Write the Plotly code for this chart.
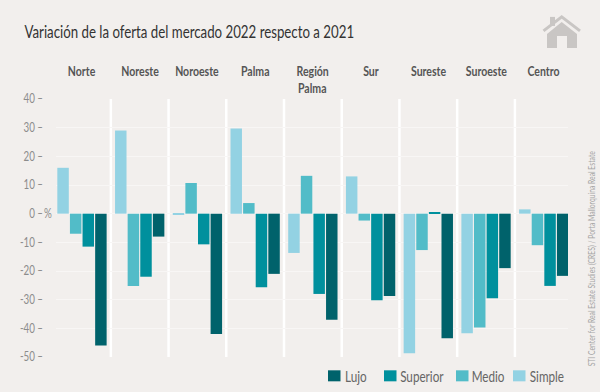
import plotly.graph_objects as go

TITLE = "Variación de la oferta del mercado 2022 respecto a 2021"
SOURCE = "STI Center for Real Estate Studies (CRES) / Porta Mallorquina Real Estate"
regions = ["Norte", "Noreste", "Noroeste", "Palma", "Región<br>Palma", "Sur", "Sureste", "Suroeste", "Centro"]
simple = [16, 29, -0.4, 29.7, -13.7, 13, -48.7, -41.7, 1.5]
medio = [-7, -25.2, 10.7, 3.7, 13.2, -2.4, -12.7, -39.7, -11]
superior = [-11.5, -22, -10.7, -25.7, -28, -30.2, 0.3, -29.5, -25.2]
lujo = [-46, -8, -42, -21, -37, -28.7, -43.5, -19, -21.7]
y_ticks = [40, 30, 20, 10, 0, -10, -20, -30, -40, -50]
y_labels = ["40 –", "30 –", "20 –", "10 –", "0 –", "-10 –", "-20 –", "-30 –", "-40 –", "-50 –"]
legend_names = ["Lujo", "Superior", "Medio", "Simple"]
legend_swatch_left = [328, 384, 456, 513]
legend_text_center = [355.5, 422, 488, 547]

FONT = "Lato, Roboto, sans-serif"
BG = "#f2efed"
W, H = 600, 392
L, R, T, B = 56, 568, 99, 356.7

def px(x):
    return (x - L) / (R - L)

def py(y):
    return (B - y) / (B - T)

fig = go.Figure()
colors = {"Simple": "#93d2e3", "Medio": "#52bcc8", "Superior": "#00909d", "Lujo": "#00626b"}
values = {"Simple": simple, "Medio": medio, "Superior": superior, "Lujo": lujo}
xs = list(range(len(regions)))
for name in ["Simple", "Medio", "Superior", "Lujo"]:
    fig.add_bar(x=xs, y=values[name], name=name, marker=dict(color=colors[name], line=dict(width=0)))

shapes = []
for i in xs[:-1]:
    shapes.append(dict(type="line", xref="x", yref="paper", x0=i + 0.5, x1=i + 0.5, y0=0, y1=1,
                       line=dict(color="white", width=2.5), layer="below"))

annotations = [
    dict(text=TITLE, xref="paper", yref="paper", x=px(189.5), y=py(32), xanchor="center", yanchor="middle",
         showarrow=False, font=dict(family=FONT, size=17, color="#333333")),
    dict(text=SOURCE, xref="paper", yref="paper", x=px(591.5), y=py(259), textangle=-90,
         xanchor="center", yanchor="middle", showarrow=False, font=dict(family=FONT, size=8.7, color="#a5a5a5")),
    dict(text="%", xref="paper", yref="y", x=px(47.5), y=0, xanchor="center", yanchor="middle",
         showarrow=False, font=dict(family=FONT, size=12.5, color="#8c8c8c")),
]
for i, r in enumerate(regions):
    for j, line in enumerate(r.split("<br>")):
        annotations.append(dict(text="<b>%s</b>" % line, x=i, xref="x", yref="paper",
                                y=py(71 + 17 * j), yanchor="middle", xanchor="center", showarrow=False,
                                font=dict(family=FONT, size=13.5, color="#555555")))

# house icon
house = [
    "M%f,%f L%f,%f L%f,%f L%f,%f L%f,%f L%f,%f L%f,%f L%f,%f L%f,%f L%f,%f L%f,%f Z" % tuple(
        v for p in [(547, 34), (561.7, 22), (577, 34), (577, 48), (567, 48), (567, 36), (557, 36),
                    (557, 48), (547, 48), (547, 34), (547, 34)] for v in (px(p[0]), py(p[1]))),
    "M%f,%f L%f,%f L%f,%f L%f,%f Z" % tuple(
        v for p in [(550, 17), (555, 17), (555, 26), (550, 26)] for v in (px(p[0]), py(p[1]))),
]
for path in house:
    shapes.append(dict(type="path", xref="paper", yref="paper", path=path, fillcolor="#c9c6c4", line=dict(width=0)))
shapes.append(dict(type="path", xref="paper", yref="paper",
                   path="M%f,%f L%f,%f L%f,%f" % (px(543.5), py(31), px(561.7), py(17), px(580), py(31)),
                   line=dict(color="#c9c6c4", width=3)))

# legend
for name, left, center in zip(legend_names, legend_swatch_left, legend_text_center):
    shapes.append(dict(type="rect", xref="paper", yref="paper", x0=px(left), x1=px(left + 12.5),
                       y0=py(381), y1=py(370), fillcolor=colors[name], line=dict(width=0)))
    annotations.append(dict(text=name, xref="paper", yref="paper", x=px(center), y=py(375.5),
                            xanchor="center", yanchor="middle", showarrow=False,
                            font=dict(family=FONT, size=15, color="#666666")))

fig.update_layout(
    width=W, height=H, margin=dict(l=L, r=W - R, t=T, b=H - B, autoexpand=False),
    paper_bgcolor=BG, plot_bgcolor=BG, barmode="group", bargap=0.126, bargroupgap=0.09,
    showlegend=False, font=dict(family=FONT),
    shapes=shapes, annotations=annotations,
    xaxis=dict(range=[-0.45, 8.42], showticklabels=False, showgrid=False, zeroline=False, fixedrange=True),
    yaxis=dict(range=[-50, 40], tickmode="array", tickvals=y_ticks, ticktext=y_labels, showgrid=True,
               gridcolor="#f8f6f5", gridwidth=1, zeroline=False, ticks="", ticklabelstandoff=12,
               tickfont=dict(family=FONT, size=12.5, color="#8c8c8c"), fixedrange=True),
)

# Page margin off; text narrowed to match the reference's condensed typeface (still real SVG text).
POST = """
document.body.style.margin='0';
document.body.style.background='%s';
document.querySelectorAll('svg text').forEach(function(t){
  var w=t.getComputedTextLength();
  if(w>0){t.setAttribute('textLength',w*0.78);t.setAttribute('lengthAdjust','spacingAndGlyphs');}
});
""" % BG
fig.write_html("out.html", config={"displayModeBar": False}, post_script=POST)
